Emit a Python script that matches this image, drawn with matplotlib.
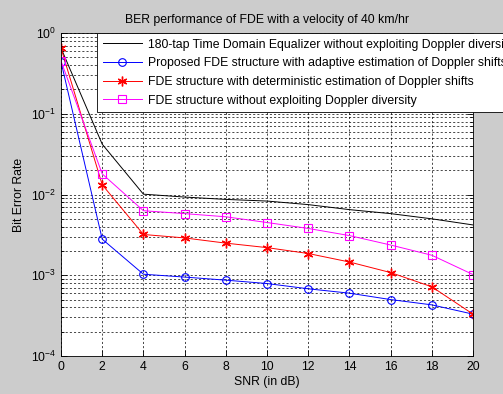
import matplotlib
matplotlib.use("Agg")
import matplotlib.pyplot as plt
from matplotlib.ticker import LogLocator, NullFormatter

plt.rcParams["font.family"] = ["Liberation Sans", "DejaVu Sans"]
plt.rcParams["mathtext.fontset"] = "custom"
plt.rcParams["mathtext.rm"] = "Liberation Sans"

SNR = [0, 2, 4, 6, 8, 10, 12, 14, 16, 18, 20]
TDE = [0.65, 0.042, 0.0101, 0.0093, 0.0087, 0.0083, 0.0075, 0.0065, 0.0058, 0.0050, 0.0042]
ADAPTIVE = [0.44, 0.0028, 0.00103, 0.00095, 0.00087, 0.00079, 0.00068, 0.0006, 0.0005, 0.00043, 0.00033]
DETERM = [0.65, 0.0132, 0.0032, 0.0029, 0.0025, 0.0022, 0.00186, 0.00146, 0.00108, 0.00072, 0.00033]
NO_DOPPLER = [0.45, 0.018, 0.0063, 0.0058, 0.0053, 0.0045, 0.0038, 0.0031, 0.00237, 0.00177, 0.00102]
LABELS = ["180-tap Time Domain Equalizer without exploiting Doppler diversity",
          "Proposed FDE structure with adaptive estimation of Doppler shifts",
          "FDE structure with deterministic estimation of Doppler shifts",
          "FDE structure without exploiting Doppler diversity"]

FS = 8.8
fig = plt.figure(figsize=(5.03, 3.94), dpi=100, facecolor="#cccccc")
ax = fig.add_axes([0.1213, 0.0964, 0.8191, 0.8198])
ax.set_facecolor("white")

ax.semilogy(SNR, TDE, "-", color="black", lw=0.7, label=LABELS[0])
ax.semilogy(SNR, ADAPTIVE, "-o", color="blue", lw=0.7, ms=5.5, mfc="none", mew=0.8, label=LABELS[1])
ax.semilogy(SNR, DETERM, "-", marker=(6, 2, 0), color="red", lw=0.7, ms=7, mew=1.0, label=LABELS[2])
ax.semilogy(SNR, NO_DOPPLER, "-s", color="magenta", lw=0.7, ms=6, mfc="none", mew=0.8, label=LABELS[3])

ax.set_xlim(0, 20)
ax.set_ylim(1e-4, 1)
ax.set_xticks(range(0, 21, 2))
ax.yaxis.set_major_locator(LogLocator(base=10, numticks=10))
ax.yaxis.set_minor_locator(LogLocator(base=10, subs=range(2, 10), numticks=10))
ax.yaxis.set_minor_formatter(NullFormatter())
ax.grid(True, which="major", color="black", ls=(0, (3, 3)), lw=0.5)
ax.grid(True, which="minor", axis="y", color="black", ls=(0, (3, 3)), lw=0.5)
ax.tick_params(which="both", direction="in", top=True, right=True, labelsize=FS, width=0.6)
ax.tick_params(which="major", length=4)
ax.tick_params(which="minor", length=2)
for s in ax.spines.values():
    s.set_linewidth(0.6)

ax.set_title("BER performance of FDE with a velocity of 40 km/hr", fontsize=FS, pad=7)
ax.set_xlabel("SNR (in dB)", fontsize=FS, labelpad=2)
ax.set_ylabel("Bit Error Rate", fontsize=FS, labelpad=4)

leg = ax.legend(loc="upper left", bbox_to_anchor=(0.193, 0.9162), bbox_transform=fig.transFigure,
                fontsize=FS, frameon=True, fancybox=False, framealpha=1, edgecolor="black",
                handlelength=3.2, labelspacing=0.55, borderpad=0.45, handletextpad=0.5,
                borderaxespad=0)
leg.get_frame().set_linewidth(0.6)

fig.savefig("out.png", dpi=100, facecolor=fig.get_facecolor())
